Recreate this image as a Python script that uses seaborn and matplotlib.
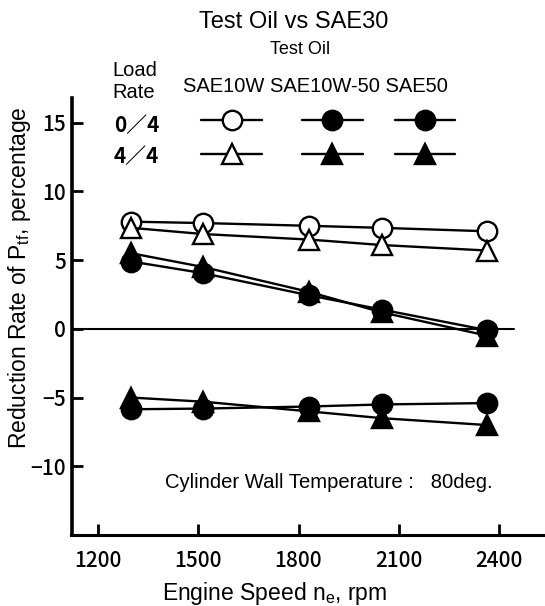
import matplotlib
matplotlib.use("Agg")
import matplotlib.pyplot as plt
from matplotlib.lines import Line2D
import numpy as np
import pandas as pd
import seaborn as sns

# engine speed, rpm
rpm = [1300, 1515, 1830, 2050, 2365]

# reduction rate of Ptf, percentage
sae10w_04 = [7.8, 7.7, 7.5, 7.35, 7.1]
sae10w_44 = [7.35, 6.9, 6.5, 6.1, 5.7]
sae10w50_04 = [4.9, 4.05, 2.45, 1.4, -0.1]
sae10w50_44 = [5.5, 4.5, 2.7, 1.2, -0.5]
sae50_04 = [-5.85, -5.8, -5.65, -5.5, -5.4]
sae50_44 = [-5.0, -5.3, -6.0, -6.5, -7.0]

oils = ["SAE10W", "SAE10W-50", "SAE50"]
loads = ["0/4", "4/4"]
x_ticks = [1200, 1500, 1800, 2100, 2400]
y_ticks = [-10, -5, 0, 5, 10, 15]

rows = []
for oil, load, vals in [("SAE10W", "0/4", sae10w_04), ("SAE10W", "4/4", sae10w_44),
                        ("SAE10W-50", "0/4", sae10w50_04), ("SAE10W-50", "4/4", sae10w50_44),
                        ("SAE50", "0/4", sae50_04), ("SAE50", "4/4", sae50_44)]:
    for r, v in zip(rpm, vals):
        rows.append({"rpm": r, "value": v, "oil": oil, "load": load})
df = pd.DataFrame(rows)

sns.set_style("ticks")
plt.rcParams["font.family"] = ["Liberation Sans", "DejaVu Sans"]
plt.rcParams["mathtext.fontset"] = "custom"
plt.rcParams["mathtext.rm"] = "Liberation Sans"
plt.rcParams["text.color"] = "black"
plt.rcParams["axes.labelcolor"] = "black"
plt.rcParams["axes.edgecolor"] = "black"

W, H = 545, 606
fig = plt.figure(figsize=(W / 100, H / 100), dpi=100)
ax = fig.add_axes([71.5 / W, 1 - 535 / H, (W - 71.5) / W, (535 - 98) / H])


def fx(x):
    return x / W


def fy(y):
    return 1 - y / H


marker_of = {"0/4": "o", "4/4": "^"}
size_of = {"0/4": 14, "4/4": 14}
face_of = {"SAE10W": "white", "SAE10W-50": "black", "SAE50": "black"}

for (oil, load), sub in df.groupby(["oil", "load"]):
    sns.lineplot(data=sub, x="rpm", y="value", ax=ax, color="black", linewidth=1.7,
                 marker=marker_of[load], markersize=size_of[load],
                 markerfacecolor=face_of[oil], markeredgecolor="black",
                 markeredgewidth=1.7, legend=False)

ax.axhline(0, xmin=0, xmax=0.934, color="black", linewidth=1.5, zorder=1)

ax.set_xlim(1120.7, 2537.5)
ax.set_ylim(-15, 16.8)
ax.set_xticks(x_ticks)
ax.set_yticks(y_ticks)
ax.set_yticklabels(["\u221210", "\u22125", "0", "5", "10", "15"])
ax.tick_params(direction="in", length=8, width=2, colors="black", labelsize=15)
ax.tick_params(axis="x", pad=11)
ax.tick_params(axis="y", pad=4)
for lab in ax.get_xticklabels() + ax.get_yticklabels():
    lab.set_family(["Noto Sans CJK JP", "DejaVu Sans"])
    lab.set_weight("medium")
sns.despine(ax=ax)
ax.spines["left"].set_linewidth(2.6)
ax.spines["bottom"].set_linewidth(2.2)

ax.set_xlabel(r"Engine Speed n$_{\rm e}$, rpm", fontsize=16.5)
ax.set_ylabel(r"Reduction Rate of P$_{\rm tf}$, percentage", fontsize=16.5)
ax.xaxis.set_label_coords(0.428, -0.102)
ax.yaxis.set_label_coords(-0.081, 0.588)

ax.text(fx(165), fy(482), "Cylinder Wall Temperature :   80deg.", transform=fig.transFigure,
        fontsize=14.6, ha="left", va="center")

# header and legend
fig.text(fx(294), fy(22), "Test Oil vs SAE30", fontsize=17, ha="center", va="center")
fig.text(fx(300), fy(50), "Test Oil", fontsize=13, ha="center", va="center")
fig.text(fx(315.5), fy(87), "  ".join(oils[:1]) + " " + " ".join(oils[1:]), fontsize=14.5,
         ha="center", va="center")
fig.text(fx(112), fy(82), "Load\nRate", fontsize=14.5, ha="left", va="center", linespacing=1.2)

row_y = {"0/4": 120, "4/4": 154}
label_y = {"0/4": 126, "4/4": 157}
col_x = {"SAE10W": (201, 262, 232), "SAE10W-50": (302, 363, 332), "SAE50": (395, 455, 425)}
for load in loads:
    fig.text(fx(114), fy(label_y[load]), load.replace("/", "\uff0f"), fontsize=15,
             ha="left", va="center", family=["Noto Sans CJK JP", "DejaVu Sans"], weight="bold")
    for oil in oils:
        x0, x1, xm = col_x[oil]
        fig.add_artist(Line2D([fx(x0), fx(x1)], [fy(row_y[load])] * 2, transform=fig.transFigure,
                              color="black", linewidth=1.7))
        fig.add_artist(Line2D([fx(xm)], [fy(row_y[load])], transform=fig.transFigure,
                              marker=marker_of[load], markersize=size_of[load],
                              markerfacecolor=face_of[oil], markeredgecolor="black",
                              markeredgewidth=1.7, linestyle="none"))

fig.savefig("out.png", dpi=100)
